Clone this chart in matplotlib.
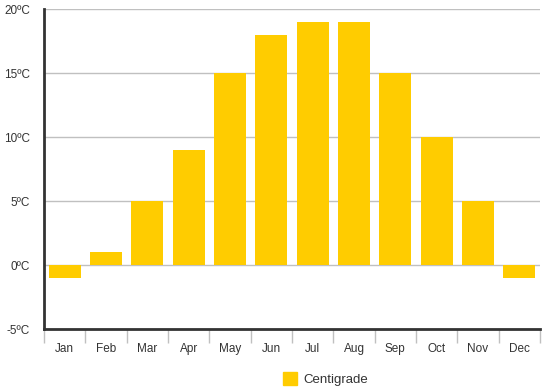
import matplotlib
matplotlib.use('Agg')
import matplotlib.pyplot as plt
from matplotlib.patches import Patch

months = ['Jan', 'Feb', 'Mar', 'Apr', 'May', 'Jun',
          'Jul', 'Aug', 'Sep', 'Oct', 'Nov', 'Dec']
centigrade = [-1, 1, 5, 9, 15, 18, 19, 19, 15, 10, 5, -1]
y_ticks = [-5, 0, 5, 10, 15, 20]

plt.rcParams['font.family'] = ['Liberation Sans', 'DejaVu Sans']

W, H = 547, 387
fig = plt.figure(figsize=(W / 100, H / 100), dpi=100)
ax = fig.add_axes([44 / W, 1 - 329 / H, 496 / W, 320 / H])

x = list(range(len(months)))
ax.bar(x, centigrade, width=0.78, color='#FFCC00', zorder=3)

ax.set_xlim(-0.5, len(months) - 0.5)
ax.set_ylim(-5, 20)
ax.set_yticks(y_ticks)
ax.set_yticklabels([f'{v}ºC' for v in y_ticks], fontsize=8.5, color='#333333')
ax.yaxis.grid(True, color='#c0c0c0', linewidth=1, zorder=0)
ax.tick_params(axis='y', length=0, pad=10)

ax.set_xticks(x)
ax.set_xticklabels(months, fontsize=8.5, color='#333333')
ax.tick_params(axis='x', length=0, pad=10)
ax.set_xticks([i - 0.5 for i in range(len(months) + 1)], minor=True)
ax.tick_params(axis='x', which='minor', length=10, color='#c0c0c0', width=1)

for side in ['top', 'right']:
    ax.spines[side].set_visible(False)
for side in ['left', 'bottom']:
    ax.spines[side].set_color('#333333')
    ax.spines[side].set_linewidth(2)

handle = Patch(color='#FFCC00', label='Centigrade')
fig.legend(handles=[handle], loc='center', bbox_to_anchor=(0.595, 1 - 379 / H),
           frameon=False, fontsize=9.5, handlelength=1.1, handleheight=1.1,
           handletextpad=0.5, labelcolor='#333333')

fig.savefig('out.png', dpi=100)
